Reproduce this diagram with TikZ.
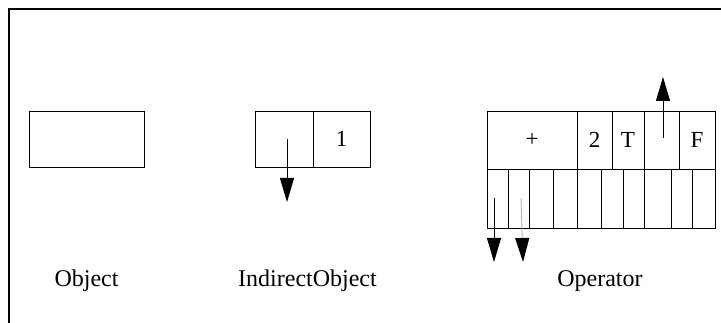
\documentclass[tikz,border=0pt]{standalone}
\usepackage{fontspec}
\setmainfont{Liberation Serif}
\usetikzlibrary{arrows.meta}
\begin{document}
\begin{tikzpicture}[x=1pt,y=-1pt,
  cell/.style={draw, line width=0.9pt, inner sep=0pt, outer sep=0pt,
    anchor=north west, font=\fontsize{23}{23}\selectfont},
  caption/.style={anchor=base, inner sep=0pt, font=\fontsize{24}{26}\selectfont},
  ptr/.style={line width=0.9pt, -{Triangle[length=24pt,width=14pt]}}]
\useasboundingbox (0,0) rectangle (721,323);

% frame
\draw[line width=1.6pt] (9,323) -- (9,9) -- (721,9);

% Object
\node[cell, minimum width=115pt, minimum height=56pt] (obj) at (29,111) {};
\node[caption] (objlbl) at (86.5,287) {Object};

% IndirectObject
\node[cell, minimum width=58pt, minimum height=56pt] (ind1) at (255,111) {};
\node[cell, minimum width=57pt, minimum height=56pt] (ind2) at (313,111) {1};
\node[caption] (indlbl) at (307.5,287) {IndirectObject};
\coordinate (indsrc) at (287,139);
\coordinate (indtip) at (287,202);
\draw[ptr] (indsrc) -- (indtip);

% Operator: top row
\node[cell, minimum width=90pt, minimum height=58pt] (opplus) at (487,111) {+};
\node[cell, minimum width=35pt, minimum height=58pt] (optwo) at (577,111) {2};
\node[cell, minimum width=32pt, minimum height=58pt] (opT) at (612,111) {T};
\node[cell, minimum width=35pt, minimum height=58pt] (opnext) at (644,111) {};
\node[cell, minimum width=36pt, minimum height=58pt] (opF) at (679,111) {F};

% Operator: bottom row
\foreach \a/\b [count=\i] in {487/508,508/529,529/553,553/577,577/601,
                              601/623,623/644,644/671,671/692,692/715}
  \node[cell, minimum width={(\b-\a)*1pt}, minimum height=59pt] (slot\i) at (\a,169) {};
\node[caption] (oplbl) at (600,287) {Operator};

% pointers of the operator
\coordinate (upsrc) at (663,138);
\coordinate (uptip) at (663,77);
\draw[ptr] (upsrc) -- (uptip);
\coordinate (s1src) at (494,198);
\coordinate (s1tip) at (494,262);
\draw[ptr] (s1src) -- (s1tip);
\coordinate (s2src) at (521,198);
\coordinate (s2tip) at (523,262);
\draw[ptr, draw=gray!60, -{Triangle[length=24pt,width=14pt,color=black]}] (s2src) -- (s2tip);
\end{tikzpicture}
\end{document}
